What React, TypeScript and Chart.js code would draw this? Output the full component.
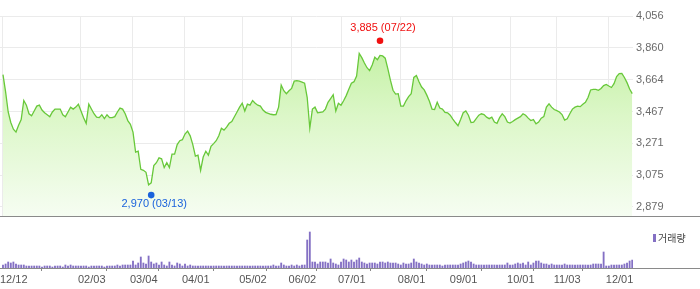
import React, { useEffect, useRef } from 'react';
import { Chart, registerables } from 'chart.js';

Chart.register(...registerables);

// x-axis (trading-day index) tick positions and labels
const tickIndex = [0, 30, 50, 70, 92, 111, 130, 153, 173, 195, 213, 233];
const tickLabels = ['12/12', '02/03', '03/04', '04/01', '05/02', '06/02', '07/01', '08/01', '09/01', '10/01', '11/03', '12/01'];

// price axis ticks
const priceTicks = [2879, 3075, 3271, 3467, 3664, 3860, 4056];

// daily closing prices
const closePrices = [
  3695, 3589, 3464, 3399, 3358, 3340, 3382, 3417, 3535, 3506, 3453, 3441, 3470, 3500, 3506, 3476, 3459, 3447, 3435, 3464,
  3482, 3482, 3482, 3447, 3435, 3464, 3494, 3482, 3494, 3512, 3470, 3429, 3394, 3512, 3482, 3453, 3432, 3429, 3447, 3423,
  3447, 3429, 3429, 3435, 3464, 3488, 3482, 3453, 3411, 3388, 3340, 3216, 3222, 3110, 3104, 3092, 3015, 3027, 3133, 3151,
  3181, 3175, 3121, 3151, 3121, 3204, 3204, 3263, 3287, 3293, 3328, 3346, 3317, 3263, 3192, 3198, 3104, 3186, 3222, 3198,
  3252, 3269, 3287, 3317, 3364, 3352, 3370, 3394, 3405, 3435, 3464, 3494, 3518, 3470, 3512, 3506, 3535, 3518, 3506, 3500,
  3476, 3462, 3456, 3450, 3447, 3448, 3494, 3630, 3595, 3577, 3595, 3609, 3654, 3657, 3654, 3648, 3642, 3553, 3364, 3482,
  3494, 3459, 3462, 3464, 3482, 3524, 3547, 3571, 3470, 3518, 3506, 3533, 3565, 3604, 3642, 3651, 3686, 3825, 3799, 3766,
  3737, 3719, 3754, 3802, 3787, 3813, 3810, 3796, 3731, 3660, 3598, 3574, 3577, 3500, 3500, 3533, 3559, 3577, 3677, 3689,
  3651, 3618, 3600, 3568, 3530, 3482, 3479, 3524, 3488, 3482, 3462, 3459, 3444, 3420, 3399, 3379, 3417, 3459, 3470, 3444,
  3399, 3402, 3423, 3444, 3453, 3448, 3432, 3423, 3432, 3402, 3394, 3429, 3453, 3435, 3402, 3396, 3405, 3417, 3426, 3435,
  3453, 3444, 3426, 3411, 3417, 3391, 3402, 3426, 3435, 3494, 3514, 3494, 3479, 3472, 3464, 3448, 3414, 3422, 3453, 3482,
  3494, 3500, 3497, 3512, 3524, 3553, 3600, 3604, 3604, 3598, 3609, 3627, 3634, 3624, 3615, 3639, 3683, 3701, 3702, 3677,
  3645, 3606, 3577,
];

// daily volume (relative units)
const volumes = [
  3, 4, 6, 5, 6, 4, 3, 3, 3, 2, 2, 2, 2, 2, 2, 1, 2, 2, 2, 1,
  2, 2, 2, 1, 3, 2, 3, 2, 2, 2, 2, 2, 2, 1, 2, 2, 2, 2, 2, 1,
  2, 2, 2, 2, 3, 2, 3, 3, 3, 3, 7, 3, 5, 11, 5, 4, 12, 6, 4, 5,
  3, 6, 3, 2, 6, 3, 2, 5, 4, 2, 4, 2, 3, 2, 2, 2, 2, 2, 2, 2,
  2, 2, 2, 2, 2, 2, 2, 2, 2, 2, 2, 2, 2, 2, 2, 2, 2, 2, 2, 2,
  2, 2, 2, 2, 3, 2, 2, 5, 3, 2, 2, 3, 2, 3, 2, 3, 3, 28, 36, 6,
  6, 4, 6, 6, 6, 5, 9, 5, 4, 3, 6, 9, 8, 6, 8, 6, 8, 10, 6, 5,
  4, 5, 5, 5, 4, 6, 6, 5, 6, 5, 5, 5, 4, 3, 5, 4, 4, 5, 9, 6,
  5, 4, 3, 4, 3, 3, 3, 3, 3, 2, 3, 3, 3, 3, 3, 3, 4, 5, 6, 7,
  6, 4, 3, 3, 3, 3, 3, 3, 3, 3, 3, 3, 3, 3, 5, 3, 3, 4, 5, 4,
  5, 3, 6, 3, 5, 7, 7, 5, 4, 4, 3, 4, 3, 3, 3, 3, 4, 3, 3, 3,
  3, 3, 3, 3, 3, 3, 3, 4, 4, 4, 4, 16, 2, 2, 3, 3, 3, 3, 3, 4,
  5, 7, 8,
];

// period high / low markers
const highIndex = 145;
const highValue = 3885;
const highLabel = '3,885 (07/22)';
const lowIndex = 57;
const lowValue = 2970;
const lowLabel = '2,970 (03/13)';

const legendLabel = '거래량';

const FONT = '"Liberation Sans", Arial, sans-serif';
const X_MIN = -1.15;
const X_MAX = 242.3;

const fullWidthBaseline = {
  id: 'fullWidthBaseline',
  afterDraw(chart: any) {
    const { ctx, chartArea, width } = chart;
    ctx.save();
    ctx.strokeStyle = '#8a8a8a';
    ctx.lineWidth = 1;
    ctx.beginPath();
    const y = Math.round(chartArea.bottom) + 0.5;
    ctx.moveTo(0, y);
    ctx.lineTo(width, y);
    ctx.stroke();
    ctx.restore();
  },
};

const markerPlugin = {
  id: 'hiLoMarkers',
  afterDatasetsDraw(chart: any) {
    const { ctx, scales } = chart;
    const xs = scales.x;
    const ys = scales.y;
    const draw = (idx: number, val: number, label: string, color: string, above: boolean) => {
      const px = xs.getPixelForValue(idx);
      const py = ys.getPixelForValue(val) + (above ? -3 : 3);
      ctx.save();
      ctx.fillStyle = color;
      ctx.beginPath();
      ctx.arc(px, py, 3.3, 0, Math.PI * 2);
      ctx.fill();
      ctx.font = `11px ${FONT}`;
      ctx.textAlign = 'center';
      ctx.textBaseline = 'middle';
      ctx.fillText(label, px + 3, above ? py - 13 : py + 9);
      ctx.restore();
    };
    draw(highIndex, highValue, highLabel, 'rgb(240,16,16)', true);
    draw(lowIndex, lowValue, lowLabel, 'rgb(26,98,220)', false);
  },
};

const legendPlugin = {
  id: 'volLegend',
  afterDraw(chart: any) {
    const { ctx } = chart;
    ctx.save();
    ctx.fillStyle = '#8470c4';
    ctx.fillRect(653, 8, 3, 8);
    ctx.fillStyle = '#444';
    ctx.font = '10px "Noto Sans CJK KR", sans-serif';
    ctx.textAlign = 'left';
    ctx.textBaseline = 'middle';
    ctx.fillText(legendLabel, 658, 12);
    ctx.restore();
  },
};

export default function App() {
  const priceRef = useRef<HTMLCanvasElement | null>(null);
  const volRef = useRef<HTMLCanvasElement | null>(null);

  useEffect(() => {
    const priceChart = new Chart(priceRef.current as HTMLCanvasElement, {
      type: 'line',
      data: {
        datasets: [
          {
            data: closePrices.map((v, i) => ({ x: i, y: v })),
            borderColor: '#68c83a',
            borderWidth: 1.3,
            pointRadius: 0,
            tension: 0,
            fill: 'start',
            backgroundColor: (c: any) => {
              const { chart } = c;
              const area = chart.chartArea;
              if (!area) return 'rgba(200,240,170,0.6)';
              const g = chart.ctx.createLinearGradient(0, area.top, 0, area.bottom);
              g.addColorStop(0, '#b9ee95');
              g.addColorStop(0.5, '#dcf7c8');
              g.addColorStop(1, '#f6fdf2');
              return g;
            },
          },
        ],
      },
      options: {
        animation: false,
        responsive: false,
        maintainAspectRatio: false,
        layout: { padding: { top: 16, left: 0, right: 0, bottom: 1 } },
        plugins: { legend: { display: false }, tooltip: { enabled: false } },
        scales: {
          x: {
            type: 'linear',
            min: X_MIN,
            max: X_MAX,
            afterBuildTicks: (a: any) => {
              a.ticks = tickIndex.map((v) => ({ value: v }));
            },
            afterFit: (a: any) => {
              a.height = 0;
            },
            ticks: { display: false },
            grid: { color: '#ebebeb', drawTicks: false },
            border: { display: false },
          },
          y: {
            type: 'linear',
            position: 'right',
            min: 2820,
            max: 4056,
            afterBuildTicks: (a: any) => {
              a.ticks = priceTicks.map((v) => ({ value: v }));
            },
            afterFit: (a: any) => {
              a.width = 67;
            },
            ticks: {
              padding: 3,
              color: '#6a6a6a',
              font: { family: FONT, size: 11 },
              callback: (v: any) => Number(v).toLocaleString('en-US'),
            },
            grid: { color: '#ebebeb', drawTicks: false },
            border: { display: false },
          },
        },
      } as any,
      plugins: [fullWidthBaseline, markerPlugin],
    });

    const volChart = new Chart(volRef.current as HTMLCanvasElement, {
      type: 'bar',
      data: {
        datasets: [
          {
            data: volumes.map((v, i) => ({ x: i, y: v })) as any,
            backgroundColor: '#8470c4',
            barThickness: 1.2,
            borderWidth: 0,
          },
        ],
      },
      options: {
        animation: false,
        responsive: false,
        maintainAspectRatio: false,
        layout: { padding: { top: 2, left: 0, right: 0, bottom: 0 } },
        plugins: { legend: { display: false }, tooltip: { enabled: false } },
        scales: {
          x: {
            type: 'linear',
            min: X_MIN,
            max: X_MAX,
            offset: false,
            afterBuildTicks: (a: any) => {
              a.ticks = tickIndex.map((v) => ({ value: v }));
            },
            afterFit: (a: any) => {
              a.height = 21;
            },
            ticks: {
              align: 'start',
              labelOffset: -3,
              padding: 2,
              autoSkip: false,
              maxRotation: 0,
              color: '#555',
              font: { family: FONT, size: 11 },
              callback: (_v: any, idx: number) => tickLabels[idx],
            },
            grid: { display: true, drawOnChartArea: false, drawTicks: true, tickLength: 3, color: '#888' },
            border: { display: false },
          },
          y: {
            type: 'linear',
            position: 'right',
            min: 0,
            max: 40,
            afterFit: (a: any) => {
              a.width = 67;
            },
            ticks: { display: false },
            grid: { display: false },
            border: { display: false },
          },
        },
      } as any,
      plugins: [fullWidthBaseline, legendPlugin],
    });

    return () => {
      priceChart.destroy();
      volChart.destroy();
    };
  }, []);

  return (
    <div style={{ position: 'absolute', left: 0, top: 0, width: 700, height: 289, background: '#fff' }}>
      <canvas ref={priceRef} width={700} height={226} style={{ position: 'absolute', left: 0, top: 0 }} />
      <canvas ref={volRef} width={700} height={63} style={{ position: 'absolute', left: 0, top: 226 }} />
    </div>
  );
}
